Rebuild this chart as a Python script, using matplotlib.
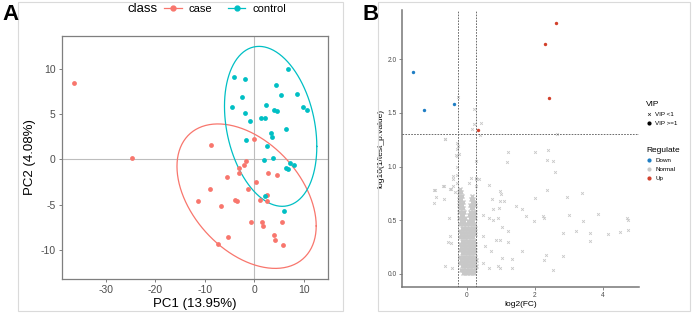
import numpy as np
import matplotlib
matplotlib.use("Agg")
import matplotlib.pyplot as plt
from matplotlib.lines import Line2D
from matplotlib.patches import Rectangle

plt.rcParams["font.family"] = ["Liberation Sans", "DejaVu Sans"]
plt.rcParams["axes.unicode_minus"] = False

# ---- panel A: PCA scores ----
case_pc1 = [-36.4, -24.7, -8.8, -0.1, -1.7, -2.0, -3.1, -3.2, 2.8, 4.5,
            -5.6, 0.35, -8.9, -1.2, 2.5, -11.4, -3.9, -3.5, 1.1, 2.6,
            -6.8, -0.6, 1.6, 5.5, 1.8, 3.9, 4.1, -5.3, -7.3, 5.8]
case_pc2 = [8.45, 0.2, 1.6, 2.2, -0.2, -0.65, -1.0, -1.5, -1.5, -1.7,
            -2.0, -2.5, -3.3, -3.3, -3.9, -4.6, -4.5, -4.6, -4.5, -4.6,
            -5.2, -6.9, -6.9, -6.9, -7.4, -8.3, -8.9, -8.6, -9.3, -9.5]
ctrl_pc1 = [-4.2, -1.9, 6.8, 4.3, -2.4, 5.4, 8.6, -4.6, 2.3, -1.8,
            3.9, 4.5, 9.85, 10.7, 1.4, 2.2, -0.8, 6.5, 3.4, 3.6,
            -1.7, 2.6, 1.9, 3.7, 7.2, 8.1, 6.4, 6.9, 2.1, 6.0]
ctrl_pc2 = [9.1, 8.9, 9.95, 8.2, 6.9, 7.05, 7.2, 5.75, 6.0, 5.1,
            5.4, 5.35, 5.75, 5.45, 4.6, 4.55, 4.25, 3.35, 2.85, 2.5,
            2.1, 1.5, -0.05, 0.15, -0.45, -0.65, -1.0, -1.1, -4.0, -5.75]

# ---- panel B: volcano ----
down_fc = [-1.59, -1.25, -0.36]
down_p = [1.885, 1.53, 1.58]
up_fc = [2.63, 2.31, 2.41, 0.32]
up_p = [2.34, 2.14, 1.64, 1.34]

# scattered "Normal" features
norm_fc = [-0.63, -0.25, 0.23, 0.21, 0.41, 0.16, 0.38, 2.66, 1.22, 2.02,
           2.38, -0.26, -0.31, -0.22, 1.19, 2.37, 2.53, 2.59, -0.95, -0.90,
           -0.95, -0.66, -0.39, -0.46, -0.66, -0.34, -0.51, -0.49, -0.56, -0.46,
           -0.63, -0.43, 0.65, 0.76, 0.99, 1.01, 1.11, 0.98, 0.79, 0.94,
           0.47, 0.67, 0.79, 0.91, 1.04, 1.21, 0.49, 0.86, 0.99, 1.21,
           0.55, 0.72, 1.04, 1.32, 0.91, 0.99, 1.32, 0.67, 0.47, 1.45,
           1.62, 1.75, 2.02, 1.99, 2.24, 2.28, 2.35, 2.95, 3.00, 3.39,
           3.41, 3.87, 2.84, 3.21, 3.64, 3.63, 4.15, 4.52, 4.72, 4.76,
           4.75, 1.62, 2.33, 2.28, 2.84, 2.53,
           -0.27, -0.27, -0.27, -0.27, -0.27, -0.27, 0.27, 0.27, 0.27, 0.27,
           -0.64, -0.93, -0.69, -0.48, -0.40, -0.39, 0.13, 0.37, 0.07]
norm_p = [1.26, 1.65, 1.54, 1.40, 1.41, 1.35, 1.29, 1.30, 1.14, 1.14,
          1.15, 1.19, 1.11, 1.12, 1.04, 1.06, 1.05, 0.95, 0.78, 0.72,
          0.66, 0.82, 0.82, 0.79, 0.70, 0.76, 0.52, 0.35, 0.30, 0.29,
          0.075, 0.05, 0.83, 0.70, 0.77, 0.74, 0.68, 0.68, 0.60, 0.61,
          0.55, 0.52, 0.50, 0.52, 0.44, 0.40, 0.35, 0.32, 0.32, 0.30,
          0.26, 0.21, 0.15, 0.14, 0.07, 0.05, 0.05, 0.05, 0.10, 0.63,
          0.60, 0.54, 0.71, 0.49, 0.54, 0.52, 0.78, 0.72, 0.55, 0.75,
          0.49, 0.56, 0.38, 0.40, 0.38, 0.31, 0.37, 0.39, 0.52, 0.50,
          0.41, 0.21, 0.18, 0.13, 0.17, 0.04,
          1.22, 1.16, 1.10, 1.00, 0.92, 0.85, 1.05, 0.89, 0.88, 0.82,
          1.26, 0.785, 0.82, 0.79, 0.91, 0.88, 0.89, 0.88, 0.85]

# dense core near log2(FC) = 0, one row per p-value level
core_rows = [
    (0.01, [-0.12, -0.05, 0.02, 0.09, 0.16, 0.23]),
    (0.04, [-0.18, -0.10, -0.03, 0.04, 0.11, 0.18, 0.26]),
    (0.07, [-0.15, -0.08, -0.01, 0.06, 0.13, 0.20, 0.27]),
    (0.10, [-0.20, -0.12, -0.05, 0.02, 0.09, 0.16, 0.23]),
    (0.13, [-0.16, -0.09, -0.02, 0.05, 0.12, 0.19, 0.27]),
    (0.16, [-0.19, -0.12, -0.05, 0.03, 0.10, 0.17, 0.24]),
    (0.19, [-0.15, -0.08, 0.00, 0.07, 0.14, 0.21]),
    (0.22, [-0.20, -0.12, -0.04, 0.04, 0.11, 0.18, 0.26]),
    (0.25, [-0.16, -0.09, -0.02, 0.06, 0.13, 0.21]),
    (0.28, [-0.19, -0.11, -0.04, 0.03, 0.10, 0.17, 0.25]),
    (0.31, [-0.15, -0.07, 0.00, 0.08, 0.15, 0.22]),
    (0.34, [-0.20, -0.12, -0.04, 0.05, 0.12, 0.20]),
    (0.37, [-0.16, -0.08, 0.00, 0.09, 0.16, 0.24]),
    (0.40, [-0.19, -0.11, -0.03, 0.06, 0.14, 0.21]),
    (0.43, [-0.15, -0.07, 0.02, 0.10, 0.18, 0.26]),
    (0.46, [-0.20, -0.12, -0.03, 0.07, 0.15, 0.22]),
    (0.49, [-0.17, -0.08, 0.04, 0.12, 0.19]),
    (0.52, [-0.21, -0.13, -0.04, 0.09, 0.17, 0.25]),
    (0.55, [-0.18, -0.10, 0.07, 0.14, 0.21]),
    (0.58, [-0.22, -0.14, -0.07, 0.11, 0.18, 0.25]),
    (0.61, [-0.19, -0.11, 0.13, 0.20]),
    (0.64, [-0.22, -0.15, 0.10, 0.17, 0.24]),
    (0.67, [-0.20, -0.12, 0.15, 0.22]),
    (0.70, [-0.23, -0.16, 0.13, 0.20]),
    (0.73, [-0.20, -0.13, 0.17]),
    (0.76, [-0.22, -0.16]),
    (0.79, [-0.19]),
]

fc_cut = 0.263
p_cut = 1.301

RED = "#F8766D"
CYAN = "#00BFC4"
DOWN = "#1F7EC4"
UP = "#D2402B"
GREY = "#C8C8C8"


def stat_ellipse(x, y, level=0.95, nu=5, n_seg=101):
    # same as ggplot2 stat_ellipse(type = "t"), robust fit like MASS::cov.trob
    pts = np.column_stack([x, y]).astype(float)
    n, p = pts.shape
    loc = pts.mean(axis=0)
    w = np.ones(n)
    for _ in range(200):
        w0 = w.copy()
        X = pts - loc
        S = (w[:, None] * X).T @ X / w.sum()
        Q = np.einsum("ij,jk,ik->i", X, np.linalg.inv(S), X)
        w = (nu + p) / (nu + Q)
        loc = (w[:, None] * pts).sum(axis=0) / w.sum()
        if np.all(np.abs(w - w0) < 1e-4):
            break
    X = pts - loc
    cov = (w[:, None] * X).T @ X / n
    dfd = n - 1
    fq = dfd / 2.0 * ((1 - level) ** (-2.0 / dfd) - 1)
    radius = np.sqrt(2 * fq)
    t = np.linspace(0, 2 * np.pi, n_seg)
    circle = np.column_stack([np.cos(t), np.sin(t)])
    L = np.linalg.cholesky(cov)
    e = loc + radius * circle @ L.T
    return e[:, 0], e[:, 1]


fig = plt.figure(figsize=(6.92, 3.13), dpi=100)

# panel frames
for x0, x1 in [(18, 343), (378, 690)]:
    fig.patches.append(Rectangle((x0 / 692, 2 / 313), (x1 - x0) / 692, 309 / 313,
                                 transform=fig.transFigure, fill=False,
                                 edgecolor="#DADADA", lw=0.8))

# ---------------- A ----------------
axA = fig.add_axes([62 / 692, 1 - 279 / 313, (328 - 62) / 692, (279 - 36) / 313])
axA.axhline(0, color="#BDBDBD", lw=0.8, zorder=1)
axA.axvline(0, color="#BDBDBD", lw=0.8, zorder=1)
ex, ey = stat_ellipse(case_pc1, case_pc2)
axA.plot(ex, ey, color=RED, lw=0.9, zorder=2)
ex, ey = stat_ellipse(ctrl_pc1, ctrl_pc2)
axA.plot(ex, ey, color=CYAN, lw=0.9, zorder=2)
axA.scatter(case_pc1, case_pc2, s=12, color=RED, lw=0, zorder=3)
axA.scatter(ctrl_pc1, ctrl_pc2, s=12, color=CYAN, lw=0, zorder=3)
axA.set_xlim(-38.9, 14.9)
axA.set_ylim(-13.2, 13.6)
axA.set_xticks([-30, -20, -10, 0, 10])
axA.set_yticks([-10, -5, 0, 5, 10])
for s in axA.spines.values():
    s.set_color("#7F7F7F")
    s.set_linewidth(0.9)
axA.tick_params(colors="#7F7F7F", labelcolor="#4D4D4D", labelsize=7.5,
                length=2.5, width=0.7, pad=2)
axA.set_xlabel("PC1 (13.95%)", fontsize=9.5, labelpad=2)
axA.set_ylabel("PC2 (4.08%)", fontsize=9.5, labelpad=3)

handles = [Line2D([], [], color=RED, marker="o", ms=3.5, lw=0.9),
           Line2D([], [], color=CYAN, marker="o", ms=3.5, lw=0.9)]
fig.legend(handles, ["case", "control"], ncol=2, frameon=False, fontsize=8,
           loc="center left", bbox_to_anchor=(164 / 692, 1 - 9 / 313),
           handlelength=1.6, handletextpad=0.6, columnspacing=1.4,
           borderaxespad=0, borderpad=0)
fig.text(127 / 692, 1 - 9.5 / 313, "class", fontsize=9.5, va="center", ha="left")

fig.text(2 / 692, 1 - 15 / 313, "A", fontsize=16, fontweight="bold", va="center")
fig.text(362 / 692, 1 - 15 / 313, "B", fontsize=16, fontweight="bold", va="center")

# ---------------- B ----------------
axB = fig.add_axes([401.7 / 692, 1 - 286.7 / 313, (639 - 401.7) / 692, (286.7 - 10) / 313])
core_fc = [x for yv, xs in core_rows for x in xs]
core_p = [yv for yv, xs in core_rows for x in xs]
axB.plot(core_fc, core_p, ls="none", marker="x", ms=3.4, mew=1.0,
         color=GREY, zorder=2)
axB.plot(norm_fc, norm_p, ls="none", marker="x", ms=2.0, mew=0.6,
         color=GREY, zorder=2)
axB.scatter(down_fc, down_p, s=6, color=DOWN, lw=0, zorder=4)
axB.scatter(up_fc, up_p, s=6, color=UP, lw=0, zorder=4)
axB.axhline(p_cut, color="#555555", lw=0.6, ls=(0, (2, 1.5)), zorder=3)
axB.axvline(-fc_cut, color="#555555", lw=0.6, ls=(0, (2, 1.5)), zorder=3)
axB.axvline(fc_cut, color="#555555", lw=0.6, ls=(0, (2, 1.5)), zorder=3)
axB.set_xlim(-1.91, 5.07)
axB.set_ylim(-0.12, 2.46)
axB.set_xticks([0, 2, 4])
axB.set_yticks([0.0, 0.5, 1.0, 1.5, 2.0])
axB.set_yticklabels(["0.0", "0.5", "1.0", "1.5", "2.0"])
for side in ["top", "right"]:
    axB.spines[side].set_visible(False)
for side in ["left", "bottom"]:
    axB.spines[side].set_color("#777777")
    axB.spines[side].set_linewidth(1.1)
axB.tick_params(colors="#777777", labelcolor="#4D4D4D", labelsize=4.8,
                length=2, width=0.6, pad=1.5)
axB.set_xlabel("log2(FC)", fontsize=6, labelpad=2)
axB.set_ylabel("log10(1/test_p.value)", fontsize=6, labelpad=2)

vip_handles = [Line2D([], [], ls="none", marker="x", ms=2, mew=0.5, color="#333333"),
               Line2D([], [], ls="none", marker="o", ms=2, color="black")]
fig.legend(vip_handles, ["VIP <1", "VIP >=1"], title="VIP", frameon=False,
           fontsize=4.5, title_fontsize=6, alignment="left",
           loc="upper left", bbox_to_anchor=(646 / 692, 1 - 101 / 313),
           handlelength=1.0, handletextpad=0.5, labelspacing=0.6,
           borderaxespad=0, borderpad=0)
reg_handles = [Line2D([], [], ls="none", marker="o", ms=2, color=DOWN),
               Line2D([], [], ls="none", marker="o", ms=2, color=GREY),
               Line2D([], [], ls="none", marker="o", ms=2, color=UP)]
fig.legend(reg_handles, ["Down", "Normal", "Up"], title="Regulate", frameon=False,
           fontsize=4.5, title_fontsize=6, alignment="left",
           loc="upper left", bbox_to_anchor=(646 / 692, 1 - 147 / 313),
           handlelength=1.0, handletextpad=0.5, labelspacing=0.6,
           borderaxespad=0, borderpad=0)

fig.savefig("out.png", dpi=100)
